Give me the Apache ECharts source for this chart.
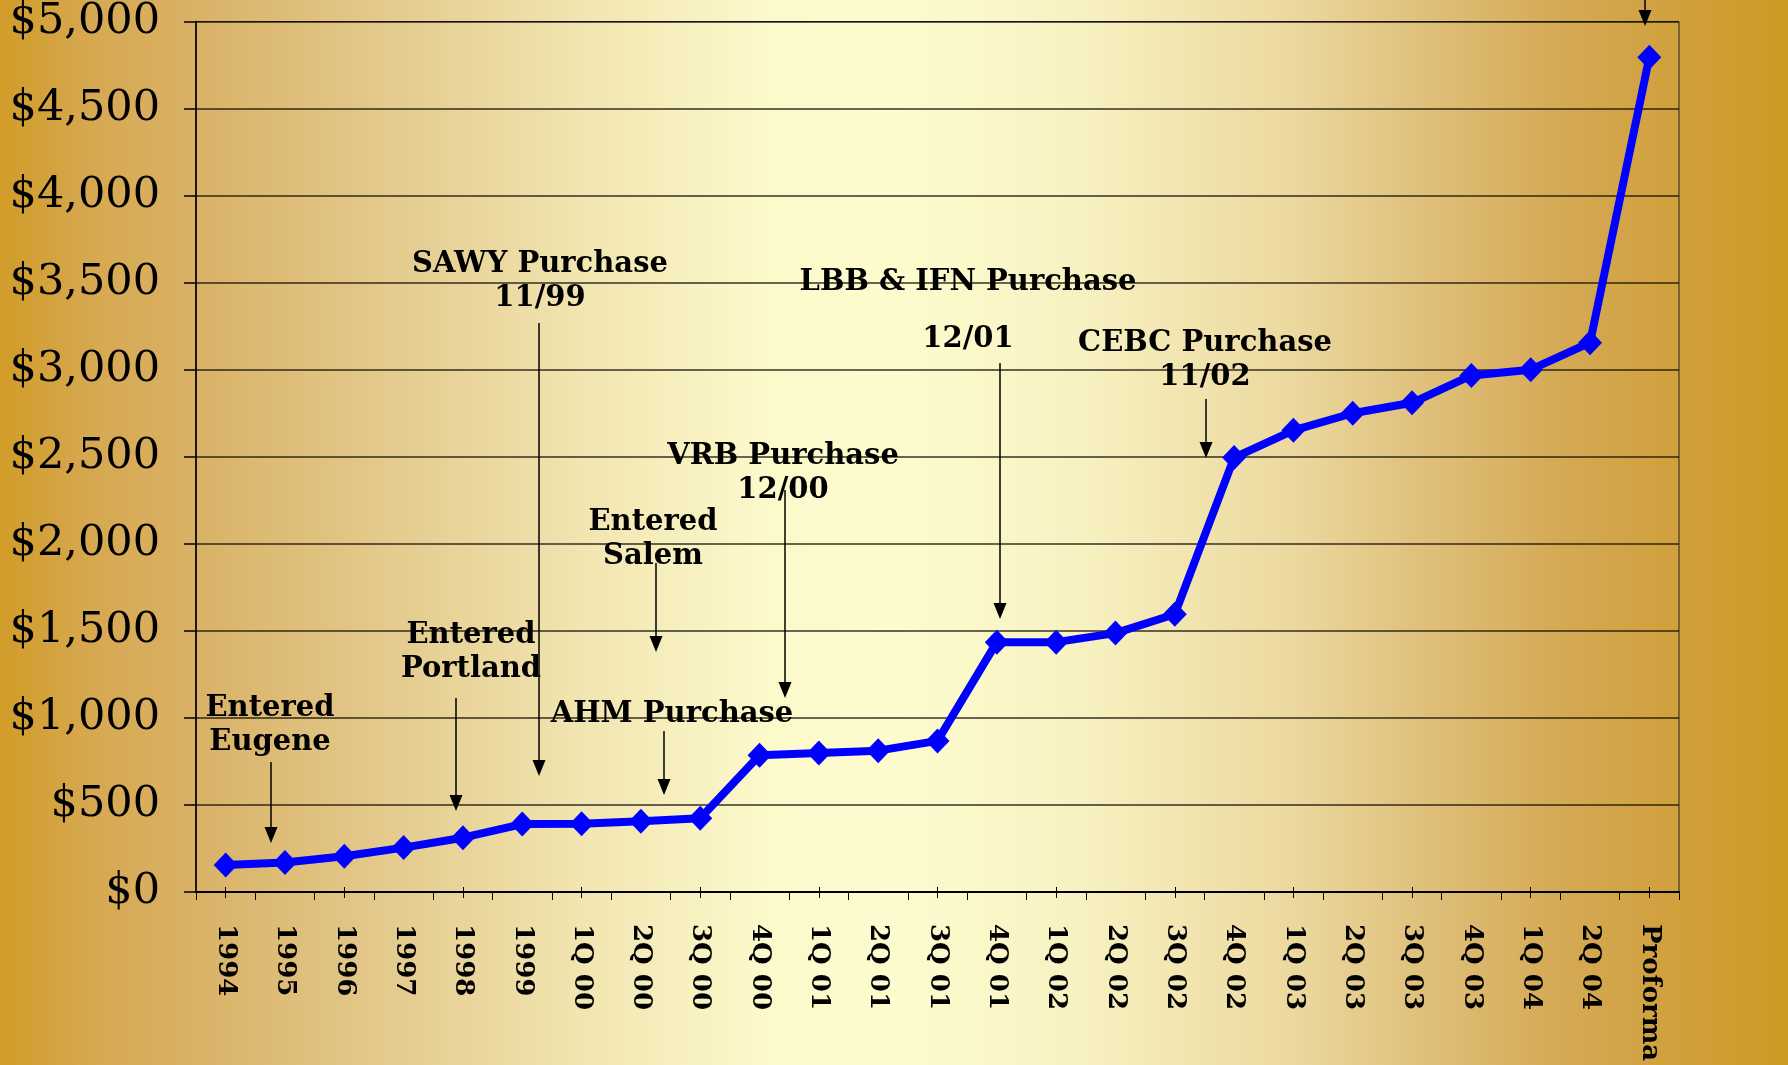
<!DOCTYPE html>
<html>
<head>
<meta charset="utf-8">
<script src="https://cdn.jsdelivr.net/npm/echarts@6/dist/echarts.min.js"></script>
<style>
  html, body { margin: 0; padding: 0; }
  #chart {
    width: 1788px; height: 1065px;
    background: linear-gradient(to right, #d19c28 0%, #d6a850 5%, #dab46a 12%, #e4cb8e 22%, #f2e6b2 33%, #fcf9cb 43%, #fdfccf 50%, #f8f2c2 60%, #ecd9a0 72%, #e0c27e 79%, #d5aa56 87%, #d1a140 93%, #cd9a24 100%);
  }
</style>
</head>
<body>
<div id="chart"></div>
<script>
// assets ($ millions) by period
const periods = ['1994', '1995', '1996', '1997', '1998', '1999', '1Q 00', '2Q 00', '3Q 00', '4Q 00',
  '1Q 01', '2Q 01', '3Q 01', '4Q 01', '1Q 02', '2Q 02', '3Q 02', '4Q 02',
  '1Q 03', '2Q 03', '3Q 03', '4Q 03', '1Q 04', '2Q 04', 'Proforma']
const assets = [155, 170, 205, 255, 312, 390, 392, 407, 424, 785,
  798, 812, 868, 1435, 1435, 1487, 1595, 2495,
  2652, 2750, 2810, 2967, 3000, 3155, 4795]

const yMin = 0
const yMax = 5000
const yStep = 500

// annotation text and arrows (pixels)
const notes = [
  { text: 'Entered\nEugene', x: 270, y: 708, ax: 271, a1: 762, a2: 843 },
  { text: 'Entered\nPortland', x: 471, y: 635, ax: 456, a1: 698, a2: 811 },
  { text: 'SAWY Purchase\n11/99', x: 540, y: 264, ax: 539, a1: 323, a2: 776 },
  { text: 'AHM Purchase', x: 672, y: 714, ax: 664, a1: 731, a2: 795 },
  { text: 'Entered\nSalem', x: 653, y: 522, ax: 656, a1: 563, a2: 652 },
  { text: 'VRB Purchase\n12/00', x: 783, y: 456, ax: 785, a1: 490, a2: 698 },
  { text: 'LBB & IFN Purchase', x: 968, y: 282, ax: 1000, a1: 363, a2: 619 },
  { text: '12/01', x: 968, y: 339 },
  { text: 'CEBC Purchase\n11/02', x: 1205, y: 343, ax: 1206, a1: 399, a2: 458 },
  { text: '', x: 1645, y: 0, ax: 1645, a1: -5, a2: 26 }
]

const serif = 'DejaVu Serif'

function arrow (x, y1, y2) {
  return [
    { type: 'line', shape: { x1: x, y1: y1, x2: x, y2: y2 - 10 }, style: { stroke: '#000', lineWidth: 1.5 }, z: 50 },
    { type: 'polygon', shape: { points: [[x - 6.5, y2 - 16], [x + 6.5, y2 - 16], [x, y2]] }, style: { fill: '#000' }, z: 50 }
  ]
}

const graphics = []
notes.forEach(n => {
  if (n.text) {
    graphics.push({
      type: 'text',
      x: n.x,
      y: n.y - 17,
      z: 50,
      style: {
        text: n.text,
        fill: '#000',
        fontFamily: serif,
        fontWeight: 'bold',
        fontSize: 29,
        lineHeight: 34,
        align: 'center',
        verticalAlign: 'top'
      }
    })
  }
  if (n.ax !== undefined) graphics.push(...arrow(n.ax, n.a1, n.a2))
})

const chart = echarts.init(document.getElementById('chart'))
chart.setOption({
  animation: false,
  backgroundColor: 'transparent',
  grid: {
    left: 196,
    right: 109,
    top: 20,
    bottom: 173,
    show: true,
    borderColor: '#222',
    borderWidth: 1
  },
  xAxis: [
    {
      type: 'category',
      data: periods,
      boundaryGap: true,
      axisLine: { lineStyle: { color: '#000', width: 2 } },
      axisTick: { show: true, length: 8, lineStyle: { color: '#000', width: 1 } },
      axisLabel: {
        interval: 0,
        rotate: -90,
        margin: 32,
        color: '#000',
        fontFamily: serif,
        fontWeight: 'bold',
        fontSize: 26
      },
      splitLine: { show: false }
    },
    {
      type: 'category',
      data: periods,
      position: 'bottom',
      boundaryGap: true,
      axisLine: { show: false },
      axisTick: { show: true, alignWithLabel: true, inside: true, length: 5, lineStyle: { color: '#000', width: 1 } },
      axisLabel: { show: false }
    },
    {
      type: 'category',
      data: periods,
      position: 'bottom',
      boundaryGap: true,
      axisLine: { show: false },
      axisTick: { show: true, alignWithLabel: true, length: 6, lineStyle: { color: '#000', width: 1 } },
      axisLabel: { show: false }
    }
  ],
  yAxis: {
    type: 'value',
    min: yMin,
    max: yMax,
    interval: yStep,
    axisLine: { show: true, lineStyle: { color: '#000', width: 1.5 } },
    axisTick: { show: true, length: 12, lineStyle: { color: '#000', width: 1.5 } },
    axisLabel: {
      margin: 36,
      color: '#000',
      fontFamily: serif,
      fontSize: 43,
      formatter: v => '$' + v.toLocaleString('en-US')
    },
    splitLine: { lineStyle: { color: 'rgba(20,15,5,0.85)', width: 1.5 } }
  },
  series: [
    {
      type: 'line',
      data: assets,
      symbol: 'diamond',
      symbolSize: [24, 25],
      lineStyle: { color: '#0000ff', width: 8 },
      itemStyle: { color: '#0000ff' },
      z: 10
    }
  ],
  graphic: graphics
})
</script>
</body>
</html>
